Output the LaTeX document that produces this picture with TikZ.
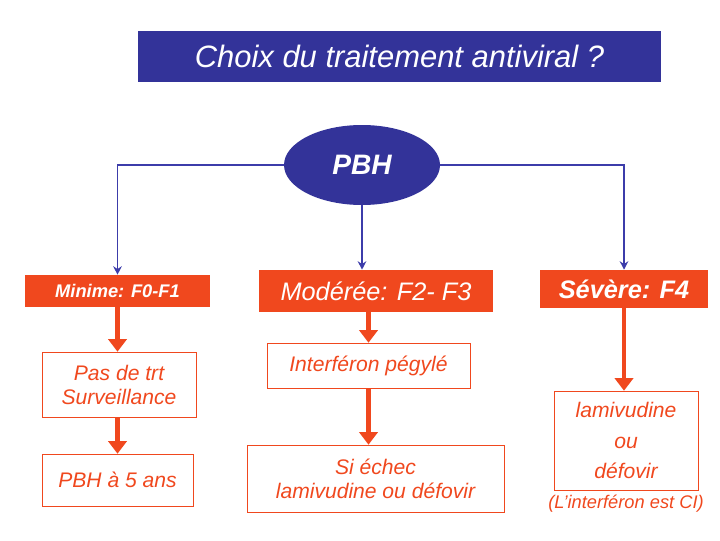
\documentclass[tikz,border=0pt]{standalone}
\usepackage{fontspec}
\setmainfont{Liberation Sans}
\usetikzlibrary{shapes.geometric,arrows.meta,positioning}
\definecolor{navy}{RGB}{51,51,153}
\definecolor{orangered}{RGB}{240,72,30}
\definecolor{linkblue}{RGB}{60,60,170}
\tikzset{
  redbox/.style={fill=orangered, text=white, inner sep=0pt, font=\itshape},
  whitebox/.style={draw=orangered, text=orangered, inner sep=0pt, align=center, font=\itshape\fontsize{15}{17}\selectfont},
  bluelink/.style={draw=linkblue, line width=1.4pt, -{Stealth[length=6pt,width=6pt]}},
  redlink/.style={draw=orangered, line width=3pt, -{Triangle[length=9pt,width=13pt]}}
}
\begin{document}
\begin{tikzpicture}[x=0.025cm,y=-0.025cm]
  \useasboundingbox (0,0) rectangle (720,540);
  % title and root
  \node[fill=navy, text=white, minimum width=523*0.025cm, minimum height=51*0.025cm, font=\itshape\fontsize{22}{26}\selectfont] (title) at (399.5,56.5) {Choix du traitement antiviral ?};
  \node[ellipse, fill=navy, text=white, minimum width=156*0.025cm, minimum height=80*0.025cm, font=\bfseries\itshape\fontsize{20}{24}\selectfont] (pbh) at (362,165) {PBH};
  % stages
  \node[redbox, minimum width=185*0.025cm, minimum height=32*0.025cm, font=\bfseries\itshape\fontsize{13}{15}\selectfont] (minime) at (117.5,291) {Minime: F0-F1};
  \node[redbox, minimum width=234*0.025cm, minimum height=42*0.025cm, font=\itshape\fontsize{18}{21}\selectfont] (moderee) at (376,291) {Modérée: F2- F3};
  \node[redbox, minimum width=168*0.025cm, minimum height=38*0.025cm, font=\bfseries\itshape\fontsize{18}{21}\selectfont] (severe) at (624,289) {Sévère: F4};
  % treatments
  \node[whitebox, minimum width=154*0.025cm, minimum height=65*0.025cm] (pastrt) at (119,384.5) {Pas de trt\\Surveillance};
  \node[whitebox, minimum width=151*0.025cm, minimum height=52*0.025cm] (pbh5) at (117.5,480) {PBH à 5 ans};
  \node[whitebox, minimum width=203*0.025cm, minimum height=45*0.025cm] (interf) at (368.5,365.5) {Interféron pégylé};
  \node[whitebox, minimum width=257*0.025cm, minimum height=67*0.025cm] (echec) at (375.5,478.5) {Si échec\\lamivudine ou défovir};
  \node[whitebox, minimum width=144*0.025cm, minimum height=99*0.025cm, font=\itshape\fontsize{15}{22}\selectfont] (lamiv) at (626,440.5) {lamivudine\\ou\\défovir};
  \node[text=orangered, font=\itshape\fontsize{13}{15}\selectfont, below=0pt of lamiv] (ci) {(L’interféron est CI)};
  % connectors
  \draw[bluelink] (pbh.west) -| (minime.north);
  \draw[bluelink] (pbh.east) -| (severe.north);
  \draw[bluelink] (pbh.south) -- (pbh.south |- moderee.north);
  \draw[redlink] (minime.south) -- (minime.south |- pastrt.north);
  \draw[redlink] (pastrt.south -| minime.south) -- (minime.south |- pbh5.north);
  \draw[redlink] (moderee.south -| interf) -- (interf.north);
  \draw[redlink] (interf.south) -- (interf.south |- echec.north);
  \draw[redlink] (severe.south) -- (severe.south |- lamiv.north);
\end{tikzpicture}
\end{document}
